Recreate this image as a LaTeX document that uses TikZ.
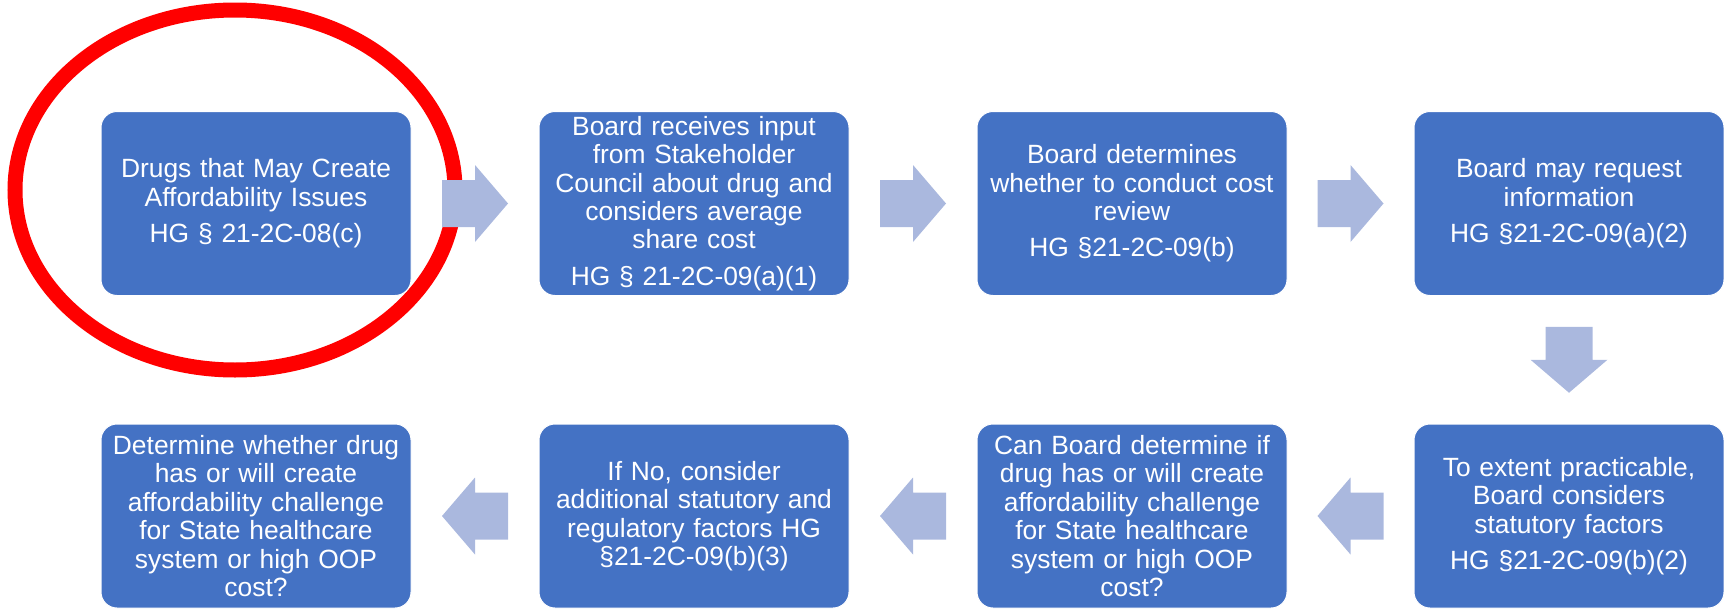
\documentclass[tikz,border=0pt]{standalone}
\usepackage{fontspec}
\setmainfont{Liberation Sans}
\usetikzlibrary{calc}
\definecolor{boxblue}{RGB}{68,114,196}
\definecolor{arrowblue}{RGB}{170,184,222}
\definecolor{ringred}{RGB}{255,0,0}
\tikzset{
  stepbox/.style={rectangle, rounded corners=16pt, fill=boxblue, draw=white, line width=1pt,
    minimum width=310pt, minimum height=184pt, inner sep=0pt,
    text=white, text width=306pt, align=center,
    font=\fontsize{26.4pt}{28.4pt}\selectfont},
  blockarrow/.pic={
    \fill[arrowblue] (-33,-23.5) -- (0,-23.5) -- (0,-38.5) -- (33,0) -- (0,38.5) -- (0,23.5) -- (-33,23.5) -- cycle;
  }
}
\begin{document}
\begin{tikzpicture}[x=1pt,y=-1pt]
\useasboundingbox (0,0) rectangle (1724,608);
\clip (0,0) rectangle (1724,608);
% highlight ring
\draw[ringred, line width=15pt] (235,190) ellipse [x radius=220pt, y radius=180pt];
% row 1
\node[stepbox] (b1) at (256,203.5) {Drugs that May Create\\Affordability Issues\\[8pt]HG § 21-2C-08(c)};
\node[stepbox] (b2) at (694,203.5) {Board receives input\\from Stakeholder\\Council about drug and\\considers average\\share cost\\[8pt]HG § 21-2C-09(a)(1)};
\node[stepbox] (b3) at (1132,203.5) {Board determines\\whether to conduct cost\\review\\[8pt]HG §21-2C-09(b)};
\node[stepbox] (b4) at (1569,203.5) {Board may request\\information\\[8pt]HG §21-2C-09(a)(2)};
% row 2
\node[stepbox] (b8) at (1569,516) {To extent practicable,\\Board considers\\statutory factors\\[8pt]HG §21-2C-09(b)(2)};
\node[stepbox] (b7) at (1132,516) {Can Board determine if\\drug has or will create\\affordability challenge\\for State healthcare\\system or high OOP\\cost?};
\node[stepbox] (b6) at (694,516) {If No, consider\\additional statutory and\\regulatory factors HG\\§21-2C-09(b)(3)};
\node[stepbox] (b5) at (256,516) {Determine whether drug\\has or will create\\affordability challenge\\for State healthcare\\system or high OOP\\cost?};
% block arrows
\pic at ($(b1.east)!0.5!(b2.west)$) {blockarrow};
\pic at ($(b2.east)!0.5!(b3.west)$) {blockarrow};
\pic at ($(b3.east)!0.5!(b4.west)$) {blockarrow};
\pic[rotate=-90] at ($(b4.south)!0.5!(b8.north)$) {blockarrow};
\pic[rotate=180] at ($(b8.west)!0.5!(b7.east)$) {blockarrow};
\pic[rotate=180] at ($(b7.west)!0.5!(b6.east)$) {blockarrow};
\pic[rotate=180] at ($(b6.west)!0.5!(b5.east)$) {blockarrow};
\end{tikzpicture}
\end{document}
